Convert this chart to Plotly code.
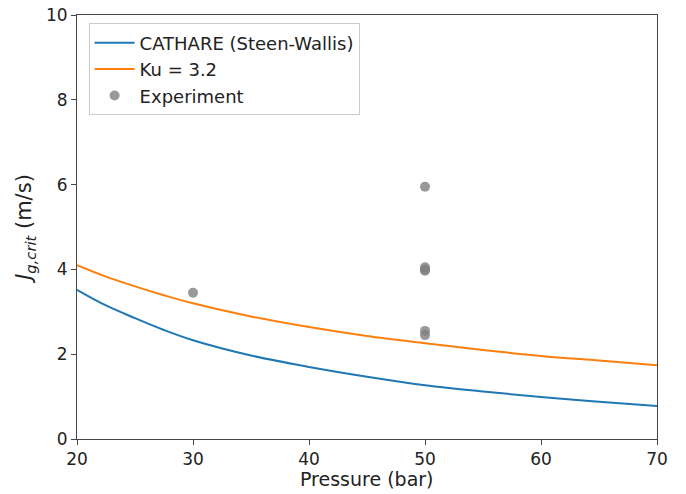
import plotly.graph_objects as go

pressure = [20, 22.5, 25, 27.5, 30, 35, 40, 45, 50, 55, 60, 65, 70]
cathare = [3.52, 3.15, 2.85, 2.57, 2.33, 1.97, 1.70, 1.47, 1.27, 1.12, 0.99, 0.88, 0.78]
ku32 = [4.10, 3.83, 3.60, 3.39, 3.20, 2.89, 2.64, 2.43, 2.26, 2.10, 1.96, 1.85, 1.74]

exp_p = [30, 50, 50, 50, 50, 50, 50]
exp_j = [3.45, 5.95, 4.05, 4.00, 3.97, 2.55, 2.45]

x_title = "Pressure (bar)"
y_title = "<i>J</i><sub><i>g,crit</i></sub> (m/s)"

fig = go.Figure()
fig.add_trace(go.Scatter(x=pressure, y=cathare, mode="lines", line=dict(color="#1f77b4", width=2, shape="spline"),
                         name="CATHARE (Steen-Wallis)"))
fig.add_trace(go.Scatter(x=pressure, y=ku32, mode="lines", line=dict(color="#ff7f0e", width=2, shape="spline"),
                         name="Ku = 3.2"))
fig.add_trace(go.Scatter(x=exp_p, y=exp_j, mode="markers", marker=dict(color="gray", size=10, opacity=0.8),
                         name="Experiment"))

font = "DejaVu Sans, sans-serif"
fig.update_layout(
    width=686, height=494,
    margin=dict(l=77, r=29, t=15, b=55),
    plot_bgcolor="white", paper_bgcolor="white",
    font=dict(family=font, size=17, color="#222"),
    legend=dict(x=0.02, y=0.98, xanchor="left", yanchor="top", bgcolor="rgba(255,255,255,0.8)",
                bordercolor="#ccc", borderwidth=1, font=dict(size=18), itemwidth=40, tracegroupgap=0),
    xaxis=dict(range=[20, 70], tickvals=[20, 30, 40, 50, 60, 70], showgrid=False, zeroline=False, automargin=False,
               showline=True, linecolor="#444", linewidth=1, mirror=True, ticks="outside", ticklen=5,
               tickcolor="#444", ticklabeloverflow="allow"),
    yaxis=dict(range=[0, 10], tickvals=[0, 2, 4, 6, 8, 10], showgrid=False, zeroline=False, automargin=False,
               showline=True, linecolor="#444", linewidth=1, mirror=True, ticks="outside", ticklen=5,
               tickcolor="#444", ticklabeloverflow="allow",
               title=dict(text=y_title, font=dict(size=21), standoff=8)),
    annotations=[dict(text=x_title, xref="paper", yref="paper", x=0.5, y=0, xanchor="center", yanchor="top",
                      yshift=-27, showarrow=False, font=dict(size=19))],
)
fig.write_html("out.html", config={"displayModeBar": False},
               post_script="document.body.style.margin='0';document.body.style.padding='0';")
